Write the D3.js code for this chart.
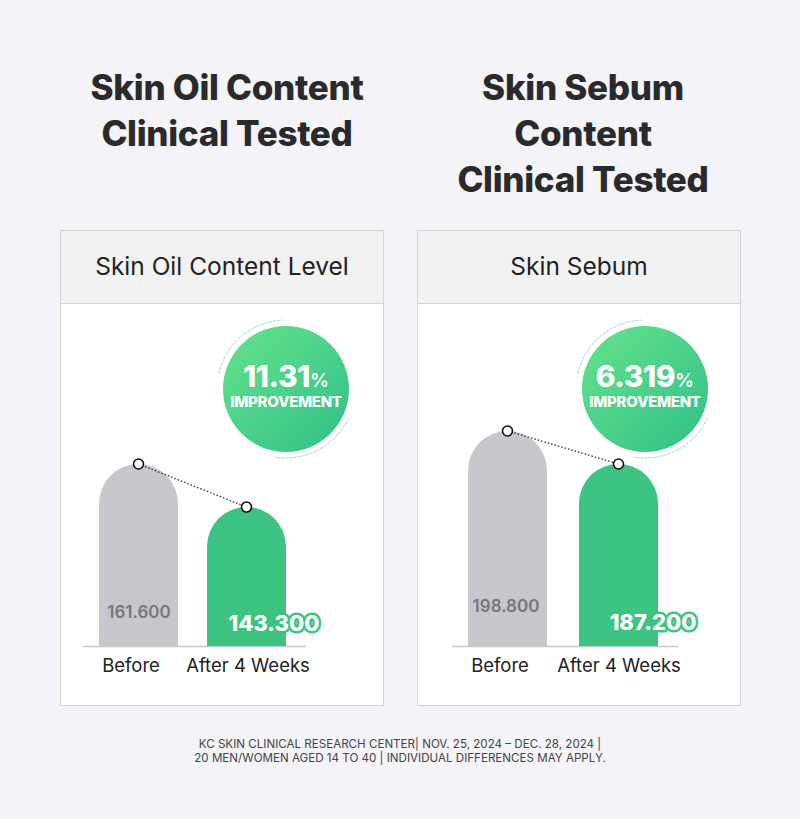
<!DOCTYPE html>
<html><head><meta charset="utf-8">
<script src="https://cdn.jsdelivr.net/npm/d3@7"></script>
<style>
html,body{margin:0;padding:0;background:#f3f3f8;}
svg{display:block;}
</style></head>
<body>
<svg id="c" width="800" height="819"></svg>
<script>
// ---- data ----
const categories = ["Before", "After 4 Weeks"];
const panelTitles = [["Skin Oil Content", "Clinical Tested"], ["Skin Sebum", "Content", "Clinical Tested"]];
const panelHeaders = ["Skin Oil Content Level", "Skin Sebum"];
const oilValues = [161.6, 143.3];
const sebumValues = [198.8, 187.2];
const improvements = ["11.31", "6.319"];
const axisMin = [84.2, 123.2];
const footerLines = [
  "KC SKIN CLINICAL RESEARCH CENTER| NOV. 25, 2024 \u2013 DEC. 28, 2024 |",
  "20 MEN/WOMEN AGED 14 TO 40 | INDIVIDUAL DIFFERENCES MAY APPLY."
];

const svg = d3.select("#c");
const FONT = "Inter, 'Noto Sans', sans-serif";

const defs = svg.append("defs");
const grad = defs.append("linearGradient").attr("id","g").attr("x1","0%").attr("y1","0%").attr("x2","100%").attr("y2","100%");
grad.append("stop").attr("offset","0%").attr("stop-color","#66e38a");
grad.append("stop").attr("offset","100%").attr("stop-color","#30c08a");

const panels = [
  {x:60, values: oilValues, min: axisMin[0], titleX: 227, barX: [99, 207], catMid:[131, 248], valMid:[139], valY:[612,623], valX2: 274, badge:[286,389]},
  {x:417, values: sebumValues, min: axisMin[1], titleX: 583, barX: [468, 579], catMid:[500, 619], valMid:[506], valY:[606,622], valX2: 653, badge:[645,389]}
];
const maxPix = [464, 431];
const baseY = 646;
const barW = 79;
const pw = 323, py = 230, ph = 475, hh = 73;

panels.forEach((p, i) => {
  // title
  const lines = panelTitles[i];
  lines.forEach((t, j) => {
    svg.append("text").attr("x", p.titleX).attr("y", 100 + j*46)
      .attr("text-anchor","middle").attr("font-family",FONT).attr("font-weight",800)
      .attr("font-size",35).attr("fill","#2a2a2a").attr("letter-spacing","-0.3").text(t);
  });
  // panel
  svg.append("rect").attr("x", p.x+0.5).attr("y", py+0.5).attr("width", pw).attr("height", ph)
    .attr("fill","#fff").attr("stroke","#d4d4d8");
  svg.append("rect").attr("x", p.x+0.5).attr("y", py+0.5).attr("width", pw).attr("height", hh)
    .attr("fill","#f2f2f3").attr("stroke","#d4d4d8");
  svg.append("text").attr("x", p.x + pw/2 + 0.5).attr("y", py + 45)
    .attr("text-anchor","middle").attr("font-family",FONT).attr("font-size",24.5).attr("fill","#222")
    .text(panelHeaders[i]);

  const y = d3.scaleLinear().domain([p.min, p.values[0]]).range([baseY, maxPix[i]]);
  const x = d3.scaleOrdinal().domain(categories).range(p.barX);

  // baseline
  svg.append("line").attr("x1", p.barX[0]-16).attr("x2", p.barX[1]+barW+20)
    .attr("y1", baseY+0.5).attr("y2", baseY+0.5).attr("stroke","#c8c8cc").attr("stroke-width",1.5);

  // bars
  const r = barW/2;
  svg.selectAll(null).data(p.values).enter().append("path")
    .attr("d", (d, k) => {
      const x0 = x(categories[k]), x1 = x0 + barW, top = y(d);
      return `M${x0},${baseY} L${x0},${top+r} A${r},${r} 0 0 1 ${x1},${top+r} L${x1},${baseY} Z`;
    })
    .attr("fill", (d,k) => k===0 ? "#c8c7cc" : "#3dc482");

  // connecting dotted line
  const pts = p.values.map((d,k) => [x(categories[k]) + barW/2, y(d)]);
  svg.append("line").attr("x1", pts[0][0]).attr("y1", pts[0][1]).attr("x2", pts[1][0]).attr("y2", pts[1][1])
    .attr("stroke","#333").attr("stroke-width",1.3).attr("stroke-dasharray","1.5,2");
  svg.selectAll(null).data(pts).enter().append("circle")
    .attr("cx", d=>d[0]).attr("cy", d=>d[1]).attr("r",5)
    .attr("fill","#fff").attr("stroke","#111").attr("stroke-width",1.6);

  // value labels
  svg.append("text").attr("x", p.valMid[0]).attr("y", p.valY[0]+6)
    .attr("text-anchor","middle").attr("font-family",FONT).attr("font-weight",600)
    .attr("font-size",17).attr("fill","#77767b").text(p.values[0].toFixed(3));
  svg.append("text").attr("x", p.valX2).attr("y", p.valY[1]+8)
    .attr("text-anchor","middle").attr("font-family",FONT).attr("font-weight",800)
    .attr("font-size",22).attr("fill","#fff").attr("stroke","#3dc482").attr("stroke-width",5)
    .attr("paint-order","stroke").attr("stroke-linejoin","round").text(p.values[1].toFixed(3));

  // category labels
  categories.forEach((c,k) => {
    svg.append("text").attr("x", p.catMid[k]).attr("y", baseY + 26)
      .attr("text-anchor","middle").attr("font-family",FONT).attr("font-size",18.5).attr("fill","#222").text(c);
  });

  // badge
  const [bx, by] = p.badge;
  [[-1.35, -0.05], [2.0, 3.3]].forEach(([a0, a1]) => {
    svg.append("path").attr("transform",`translate(${bx},${by})`)
      .attr("d", d3.arc()({innerRadius:69, outerRadius:69, startAngle:a0, endAngle:a1}))
      .attr("fill","none").attr("stroke","#9fe3c8").attr("stroke-width",1).attr("stroke-dasharray","2,2");
  });
  svg.append("circle").attr("cx", bx).attr("cy", by).attr("r", 63).attr("fill","url(#g)");
  const t = svg.append("text").attr("x", bx).attr("y", by - 2).attr("text-anchor","middle")
    .attr("font-family",FONT).attr("font-weight",800).attr("fill","#fff");
  t.append("tspan").attr("font-size",30).attr("letter-spacing","-0.5").text(improvements[i]);
  t.append("tspan").attr("font-size",19).attr("font-weight",600).text("%");
  svg.append("text").attr("x", bx).attr("y", by + 18).attr("text-anchor","middle")
    .attr("font-family",FONT).attr("font-weight",800).attr("font-size",15).attr("letter-spacing","-0.3")
    .attr("fill","#fff").text("IMPROVEMENT");
});

// footer
footerLines.forEach((l, j) => {
  svg.append("text").attr("x", 400).attr("y", 748 + j*14).attr("text-anchor","middle")
    .attr("font-family",FONT).attr("font-size",11.6).attr("fill","#444").text(l);
});
</script>
</body></html>
